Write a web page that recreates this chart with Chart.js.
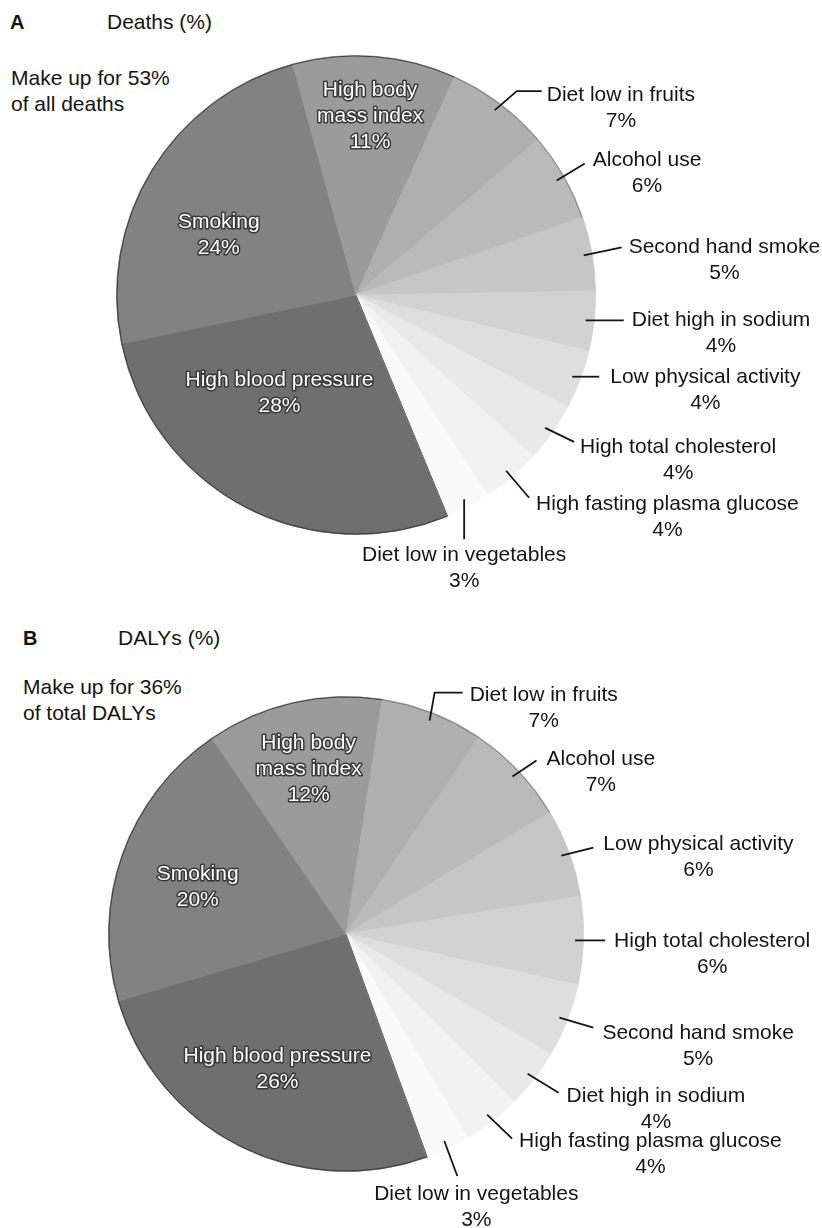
<!DOCTYPE html>
<html>
<head>
<meta charset="utf-8">
<script src="https://cdn.jsdelivr.net/npm/chart.js@4.4.1/dist/chart.umd.min.js"></script>
<style>
  body { margin: 0; background: #fff; width: 822px; height: 1228px; position: relative; overflow: hidden;
         font-family: "Liberation Sans", Arial, Helvetica, sans-serif; color: #141414; }
  canvas { position: absolute; left: 0; }
  .tag { position: absolute; font-weight: bold; font-size: 20px; line-height: 24px; }
  .ttl { position: absolute; font-size: 21px; line-height: 24px; }
  .note { position: absolute; font-size: 21px; line-height: 26px; }
</style>
</head>
<body>
<div class="tag" style="left:10px; top:10px;">A</div>
<div class="ttl" style="left:107px; top:10px;">Deaths (%)</div>
<div class="note" style="left:11px; top:65px;">Make up for 53%<br>of all deaths</div>
<canvas id="pieA" width="822" height="600" style="top:0px;"></canvas>

<div class="tag" style="left:23px; top:626px;">B</div>
<div class="ttl" style="left:118px; top:626px;">DALYs (%)</div>
<div class="note" style="left:23px; top:674px;">Make up for 36%<br>of total DALYs</div>
<canvas id="pieB" width="822" height="628" style="top:600px;"></canvas>

<script>
// Panel A: share of deaths by risk factor (%)
const risksDeaths = ['High blood pressure', 'Smoking', 'High body mass index', 'Diet low in fruits',
  'Alcohol use', 'Second hand smoke', 'Diet high in sodium', 'Low physical activity',
  'High total cholesterol', 'High fasting plasma glucose', 'Diet low in vegetables'];
const deathsPct = [28, 24, 11, 7, 6, 5, 4, 4, 4, 4, 3];

// Panel B: share of DALYs by risk factor (%)
const risksDalys = ['High blood pressure', 'Smoking', 'High body mass index', 'Diet low in fruits',
  'Alcohol use', 'Low physical activity', 'High total cholesterol', 'Second hand smoke',
  'Diet high in sodium', 'High fasting plasma glucose', 'Diet low in vegetables'];
const dalysPct = [26, 20, 12, 7, 7, 6, 6, 5, 4, 4, 3];

// Grey ramp, darkest for the largest slice
const greys = ['#6f6f6f', '#828282', '#9b9b9b', '#afafaf', '#bababa', '#c6c6c6',
  '#d2d2d2', '#dedede', '#e9e9e9', '#f2f2f2', '#fafafa'];

// Line breaks used for labels drawn inside slices
const wrapped = { 'High body mass index': ['High body', 'mass index'] };

const FONT = '21px "Liberation Sans", Arial, Helvetica, sans-serif';
const LINE_H = 26;

// Label placement: inside labels sit at a fraction of the radius (plus an angle nudge);
// outside labels hang off a leader line that starts at the slice's mid-angle on the rim.
const placeA = {
  inside: { 0: { r: 0.52, da: 10 }, 1: { r: 0.625, da: -8 }, 2: { r: 0.75, da: 0 } },
  outside: {
    3: { path: [[22, -19], [47, -19]], text: [5, 4] },
    4: { path: [[28, -17]], text: [8, -3] },
    5: { path: [[38, -8]], text: [7, 0] },
    6: { path: [[38, 0]], text: [8, 0] },
    7: { path: [[27, 0]], text: [11, 1] },
    8: { path: [[29, 14]], text: [6, 5] },
    9: { path: [[23, 27]], text: [7, 6] },
    10: { path: [[0, 40]], text: [0, 16], below: true }
  }
};
const placeB = {
  inside: { 0: { r: 0.64, da: 0 }, 1: { r: 0.655, da: -2 }, 2: { r: 0.71, da: 0 } },
  outside: {
    3: { path: [[5, -28], [33, -28]], text: [7, 3] },
    4: { path: [[24, -16]], text: [10, -1] },
    5: { path: [[32, -8]], text: [10, -3] },
    6: { path: [[30, 0]], text: [9, 1] },
    7: { path: [[34, 10]], text: [9, 6] },
    8: { path: [[31, 19]], text: [8, 3] },
    9: { path: [[25, 24]], text: [7, 3] },
    10: { path: [[13, 35]], text: [19, 18], below: true }
  }
};

// Thin dark rim along the darker slices and the leading edge of the first slice
const rimOutline = {
  id: 'rimOutline',
  afterDatasetsDraw(chart) {
    const ctx = chart.ctx;
    const meta = chart.getDatasetMeta(0);
    ctx.save();
    ctx.lineWidth = 1;
    ctx.strokeStyle = 'rgba(50,50,50,0.85)';
    const first = meta.data[0].getProps(['x', 'y', 'startAngle', 'outerRadius'], true);
    ctx.beginPath();
    ctx.moveTo(first.x, first.y);
    ctx.lineTo(first.x + Math.cos(first.startAngle) * first.outerRadius,
               first.y + Math.sin(first.startAngle) * first.outerRadius);
    ctx.stroke();
    meta.data.forEach((arc, i) => {
      if (i > 4) return;
      const p = arc.getProps(['x', 'y', 'startAngle', 'endAngle', 'outerRadius'], true);
      ctx.strokeStyle = i < 3 ? 'rgba(50,50,50,0.85)' : 'rgba(80,80,80,0.5)';
      ctx.beginPath();
      ctx.arc(p.x, p.y, p.outerRadius - 0.5, p.startAngle, p.endAngle);
      ctx.stroke();
    });
    ctx.restore();
  }
};

const sliceLabels = {
  id: 'sliceLabels',
  afterDatasetsDraw(chart, args, opts) {
    const ctx = chart.ctx;
    const ds = chart.data.datasets[0];
    const meta = chart.getDatasetMeta(0);
    const place = opts.place;
    ctx.save();
    ctx.font = FONT;
    ctx.textBaseline = 'middle';
    meta.data.forEach((arc, i) => {
      const p = arc.getProps(['x', 'y', 'startAngle', 'endAngle', 'outerRadius'], true);
      const mid = (p.startAngle + p.endAngle) / 2;
      const name = chart.data.labels[i];
      const pct = ds.data[i] + '%';
      if (place.inside[i]) {
        const cfg = place.inside[i];
        const a = mid + cfg.da * Math.PI / 180;
        const cx = p.x + Math.cos(a) * p.outerRadius * cfg.r;
        const cy = p.y + Math.sin(a) * p.outerRadius * cfg.r;
        const lines = (wrapped[name] || [name]).concat([pct]);
        const y0 = cy - (lines.length - 1) * LINE_H / 2;
        ctx.textAlign = 'center';
        ctx.lineJoin = 'round';
        lines.forEach((t, k) => {
          ctx.lineWidth = 3;
          ctx.strokeStyle = '#383838';
          ctx.strokeText(t, cx, y0 + k * LINE_H);
          ctx.fillStyle = '#ffffff';
          ctx.fillText(t, cx, y0 + k * LINE_H);
        });
      } else if (place.outside[i]) {
        const cfg = place.outside[i];
        const ax = p.x + Math.cos(mid) * p.outerRadius * 0.965;
        const ay = p.y + Math.sin(mid) * p.outerRadius * 0.965;
        ctx.beginPath();
        ctx.moveTo(ax, ay);
        let ex = ax, ey = ay;
        cfg.path.forEach(([dx, dy]) => { ex = ax + dx; ey = ay + dy; ctx.lineTo(ex, ey); });
        ctx.lineWidth = 1.8;
        ctx.strokeStyle = '#141414';
        ctx.stroke();
        ctx.fillStyle = '#141414';
        ctx.textAlign = 'center';
        if (cfg.below) {
          const cx = ex + cfg.text[0];
          const y1 = ey + cfg.text[1];
          ctx.fillText(name, cx, y1);
          ctx.fillText(pct, cx, y1 + LINE_H);
        } else {
          const w = ctx.measureText(name).width;
          const cx = ex + cfg.text[0] + w / 2;
          const y1 = ey + cfg.text[1];
          ctx.fillText(name, cx, y1);
          ctx.fillText(pct, cx, y1 + LINE_H);
        }
      }
    });
    ctx.restore();
  }
};

function makePie(id, labels, values, rotation, padding, place) {
  return new Chart(document.getElementById(id), {
    type: 'pie',
    data: {
      labels: labels,
      datasets: [{
        data: values,
        backgroundColor: greys,
        borderColor: greys,
        borderWidth: 1
      }]
    },
    options: {
      responsive: false,
      animation: false,
      devicePixelRatio: 1,
      rotation: rotation,
      layout: { padding: padding },
      plugins: {
        legend: { display: false },
        tooltip: { enabled: false },
        sliceLabels: { place: place }
      }
    },
    plugins: [rimOutline, sliceLabels]
  });
}

makePie('pieA', risksDeaths, deathsPct, 157.5, { left: 116, right: 226, top: 55, bottom: 65 }, placeA);
makePie('pieB', risksDalys, dalysPct, 160, { left: 108, right: 238, top: 96, bottom: 56 }, placeB);
</script>
</body>
</html>
